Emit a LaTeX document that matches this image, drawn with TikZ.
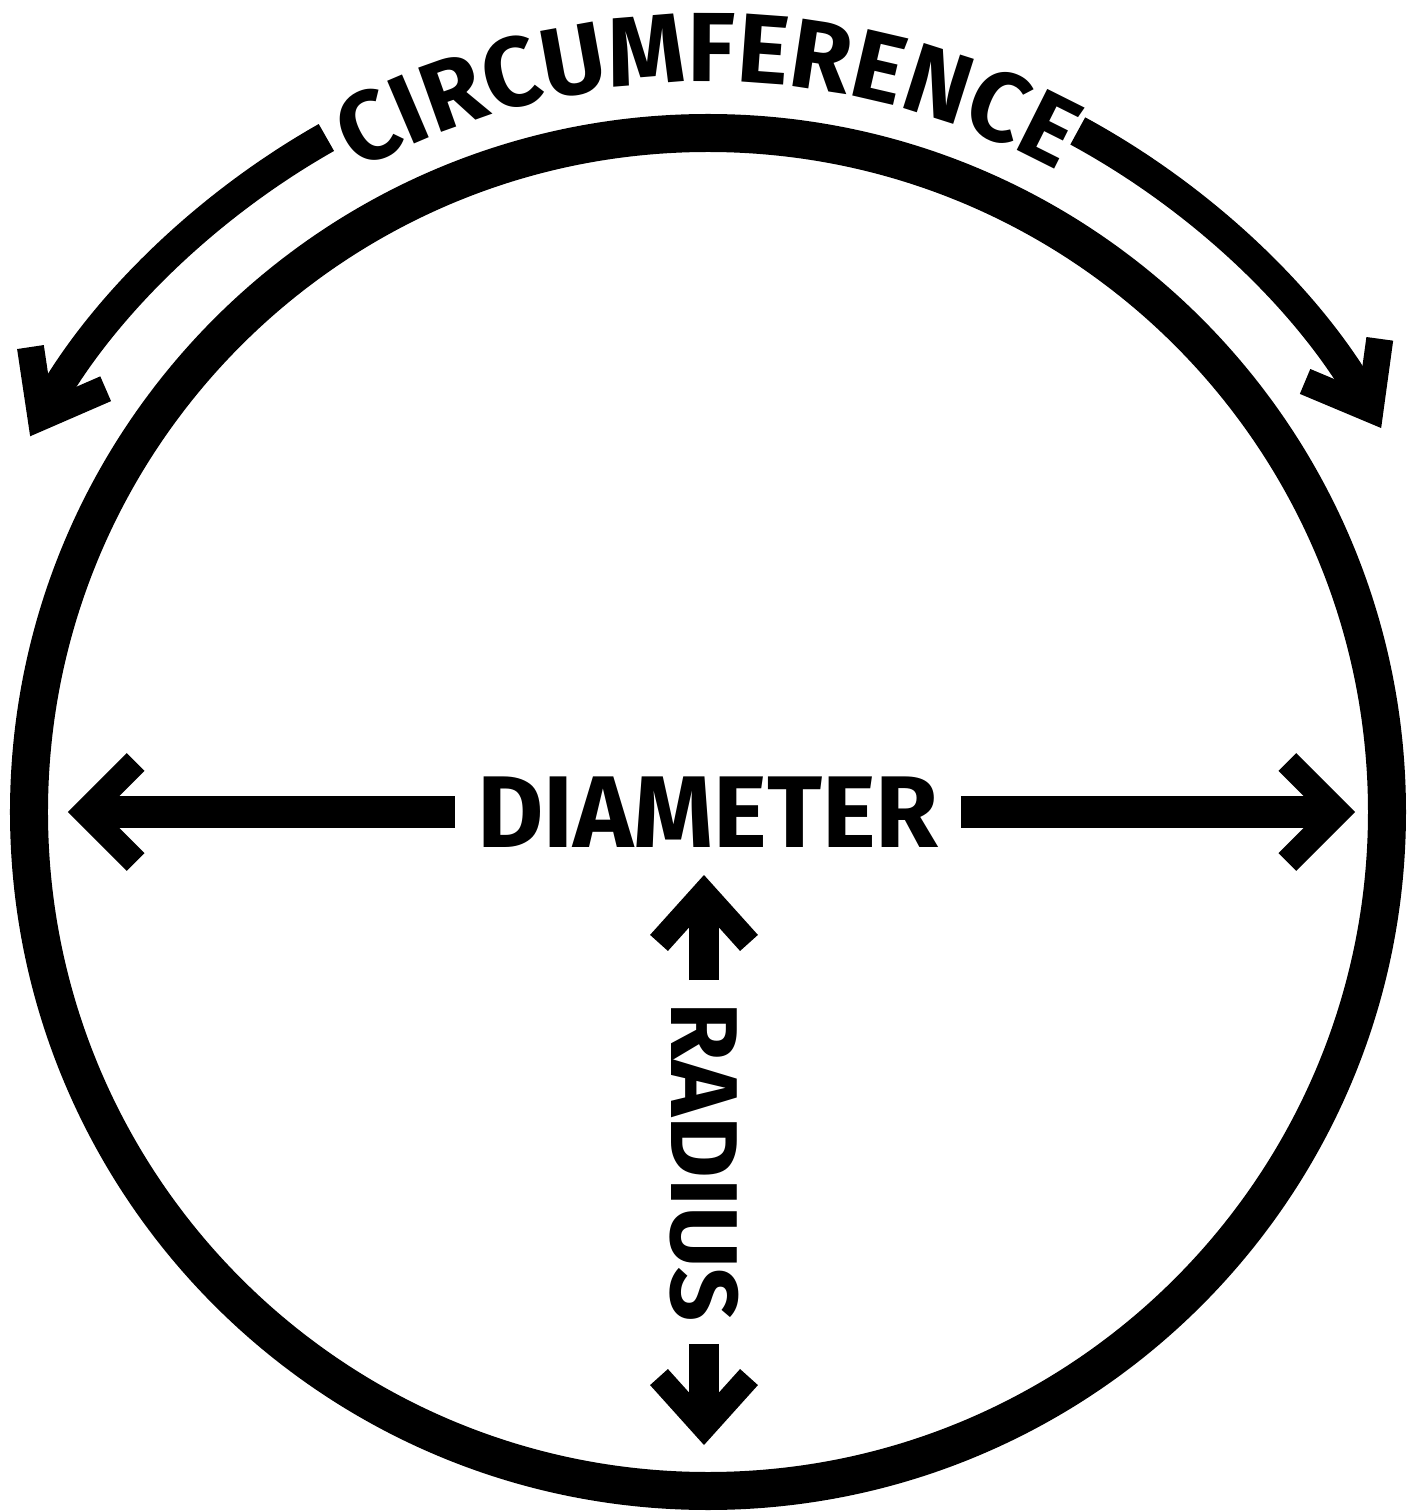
\documentclass[tikz,border=0pt]{standalone}
\usepackage{fontspec}
\newfontfamily\lblfont{Fira Sans}
\usetikzlibrary{arrows.meta,decorations.text}
\newcommand{\lblsize}[1]{\lblfont\bfseries\fontsize{#1}{#1}\selectfont}
\newcommand{\circarc}[2]{\draw[circarrow] (#1:775) arc[start angle=#1, end angle=#2, radius=775]}

\begin{document}
\begin{tikzpicture}[x=0.1mm,y=0.1mm,
	rim/.style={line width=3.8mm},
	shaft/.style={line width=3.2mm,-{Straight Barb[length=5mm,width=10mm,line width=2.5mm]}},
	vshaft/.style={line width=3mm,-{Straight Barb[length=5mm,width=9mm,line width=2.4mm]}},
	circarrow/.style={line width=3.1mm,-{Straight Barb[length=5.6mm,width=8.6mm,line width=2.7mm]}},
	lbl/.style={inner sep=2.2mm, outer sep=0pt}]
	\useasboundingbox (-708,-699) rectangle (708,812);
	\draw[rim] (0,0) circle (679);
	% circumference
	\path[decorate, decoration={text along path, text align=center,
		text={|\lblsize{28pt}|CIRCUMFERENCE}}] (160:730) arc[start angle=160, end angle=20, radius=730];
	\circarc{119.5}{151};
	\circarc{61.5}{29.7};
	% diameter
	\node[lbl, font=\lblsize{29pt}] (diam) at (0,0) {DIAMETER};
	\coordinate (dleft) at (-640,0);
	\coordinate (dright) at (647,0);
	\draw[shaft] (diam) -- (dleft);
	\draw[shaft] (diam) -- (dright);
	% radius
	\node[lbl, font=\lblsize{27pt}, rotate=-90] (rad) at (-4,-350) {RADIUS};
	\coordinate (rtop) at (-4,-63);
	\coordinate (rbot) at (-4,-633);
	\draw[vshaft] (rad) -- (rtop);
	\draw[vshaft] (rad) -- (rbot);
\end{tikzpicture}
\end{document}
